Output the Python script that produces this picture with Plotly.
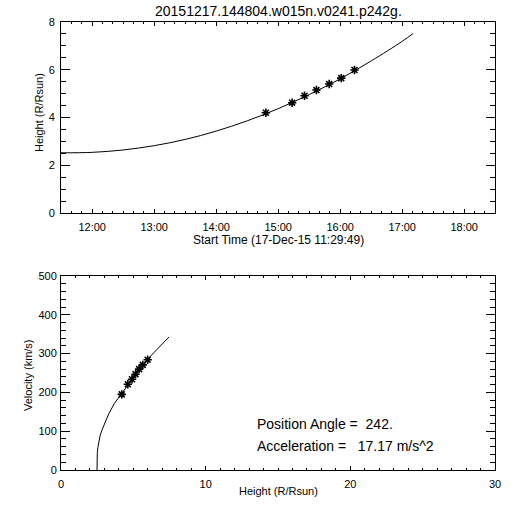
import plotly.graph_objects as go

# ---- data ----
obs_times = ["2015-12-17 14:48:04", "2015-12-17 15:13:30", "2015-12-17 15:25:30",
             "2015-12-17 15:37:00", "2015-12-17 15:49:20", "2015-12-17 16:01:00",
             "2015-12-17 16:13:50"]
obs_heights = [4.20, 4.62, 4.91, 5.15, 5.40, 5.65, 5.99]
obs_velocity = [195, 221, 234, 247, 260, 271, 284]

fit_times = ["2015-12-17 11:29:49", "2015-12-17 12:00", "2015-12-17 12:30",
             "2015-12-17 13:00", "2015-12-17 13:30", "2015-12-17 14:00",
             "2015-12-17 14:30", "2015-12-17 15:00", "2015-12-17 15:30",
             "2015-12-17 16:00", "2015-12-17 16:30", "2015-12-17 17:00",
             "2015-12-17 17:10:35"]
fit_heights = [2.52, 2.54, 2.64, 2.82, 3.08, 3.43, 3.86, 4.37, 4.96, 5.62, 6.37, 7.19, 7.52]

vel_curve_h = [2.49, 2.49, 2.51, 2.55, 2.61, 2.70, 2.82, 3.0, 3.3, 3.7, 4.2, 4.7, 5.2, 5.7, 6.2, 6.7, 7.1, 7.47]
vel_curve_v = [0, 34, 45, 58, 72, 88, 102, 120, 145, 172, 197, 224, 249, 273, 294, 314, 330, 343]

title_text = "20151217.144804.w015n.v0241.p242g."
xtitle_top = "Start Time (17-Dec-15 11:29:49)"
ytitle_top = "Height (R/Rsun)"
xtitle_bot = "Height (R/Rsun)"
ytitle_bot = "Velocity (km/s)"
pa_text = "Position Angle =&nbsp; 242."
acc_text = "Acceleration =&nbsp;&nbsp; 17.17 m/s^2"
time_range = ["2015-12-17 11:29:49", "2015-12-17 18:29:49"]

FONT = "Liberation Sans"
star = dict(symbol="asterisk-open", size=7, color="black", line=dict(color="black", width=1.6))

fig = go.Figure()
fig.add_trace(go.Scatter(x=fit_times, y=fit_heights, mode="lines", line=dict(color="black", width=1, shape="spline"),
                         xaxis="x", yaxis="y", showlegend=False))
fig.add_trace(go.Scatter(x=obs_times, y=obs_heights, mode="markers", marker=star,
                         xaxis="x", yaxis="y", showlegend=False))
fig.add_trace(go.Scatter(x=vel_curve_h, y=vel_curve_v, mode="lines", line=dict(color="black", width=1),
                         xaxis="x2", yaxis="y2", showlegend=False))
fig.add_trace(go.Scatter(x=obs_heights, y=obs_velocity, mode="markers", marker=star,
                         xaxis="x2", yaxis="y2", showlegend=False))

axcommon = dict(showgrid=False, zeroline=False, showline=True, linecolor="black", linewidth=1,
                mirror="ticks", ticks="inside", tickcolor="black", tickwidth=1,
                tickfont=dict(family=FONT, size=11, color="black"))

fig.update_layout(
    width=512, height=512, paper_bgcolor="white", plot_bgcolor="white",
    margin=dict(l=61, r=17, t=22, b=42),
    xaxis=dict(**axcommon, type="date", range=time_range, domain=[0, 1], anchor="y",
               dtick=3600000, tickformat="%H:%M", ticklen=4, ticklabelstandoff=4,
               minor=dict(dtick=600000, ticks="inside", ticklen=2, tickcolor="black", showgrid=False)),
    yaxis=dict(**axcommon, range=[0, 8], domain=[0.5737, 1], anchor="x",
               dtick=2, ticklen=9, ticklabelstandoff=3,
               minor=dict(dtick=0.5, ticks="inside", ticklen=5, tickcolor="black", showgrid=False)),
    xaxis2=dict(**axcommon, range=[0, 30], domain=[0, 1], anchor="y2",
                dtick=10, ticklen=4, ticklabelstandoff=4,
                minor=dict(dtick=1, ticks="inside", ticklen=2, tickcolor="black", showgrid=False)),
    yaxis2=dict(**axcommon, range=[0, 500], domain=[0, 0.433], anchor="x2",
                dtick=100, ticklen=9, ticklabelstandoff=1,
                minor=dict(dtick=20, ticks="inside", ticklen=5, tickcolor="black", showgrid=False)),
)

def ann(text, x, y, size=10, angle=0, xanchor="center", yanchor="middle"):
    fig.add_annotation(text=text, x=x, y=y, xref="paper", yref="paper", showarrow=False,
                       textangle=angle, xanchor=xanchor, yanchor=yanchor,
                       font=dict(family=FONT, size=size, color="black"))

ann(title_text, 0.5, (470 - 11) / 448, size=14)
ann(xtitle_top, 0.5, (470 - 240) / 448, size=12)
ann(ytitle_top, (39 - 61) / 434, (470 - 113) / 448, size=11, angle=-90)
ann(xtitle_bot, 0.5, (470 - 491) / 448, size=11)
ann(ytitle_bot, (28 - 61) / 434, (470 - 375) / 448, size=11, angle=-90)
ann(pa_text, (255 - 61) / 434, (470 - 424) / 448, size=14, xanchor="left")
ann(acc_text, (255 - 61) / 434, (470 - 446) / 448, size=14, xanchor="left")

fig.write_html("out.html", config={"displayModeBar": False},
               post_script="document.body.style.margin='0px';")
